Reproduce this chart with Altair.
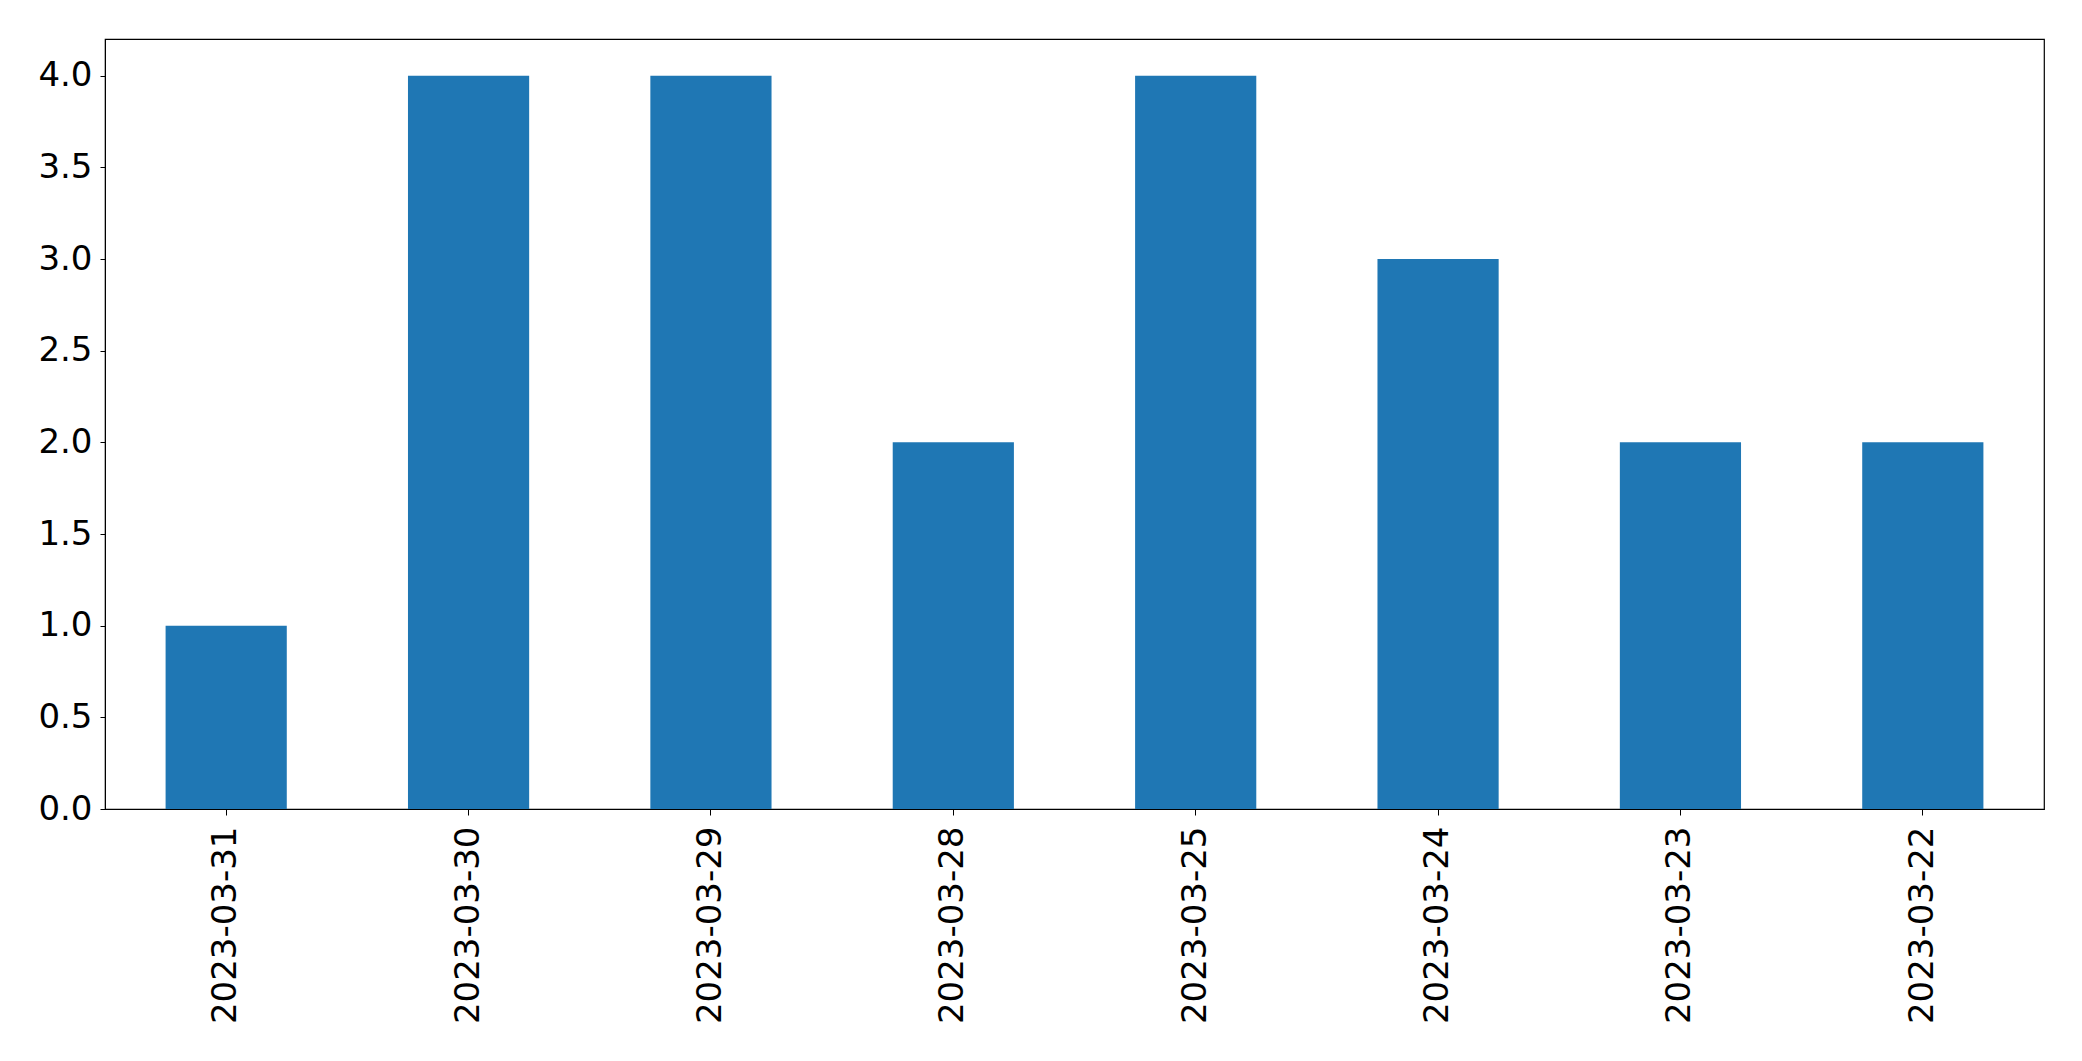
import altair as alt
import pandas as pd

dates = ["2023-03-31", "2023-03-30", "2023-03-29", "2023-03-28",
         "2023-03-25", "2023-03-24", "2023-03-23", "2023-03-22"]
counts = [1, 4, 4, 2, 4, 3, 2, 2]
y_ticks = [0.0, 0.5, 1.0, 1.5, 2.0, 2.5, 3.0, 3.5, 4.0]

df = pd.DataFrame({"date": dates, "count": counts})

chart = alt.Chart(df).mark_bar(color="#1f77b4").encode(
    x=alt.X("date:N", sort=None, title=None,
            scale=alt.Scale(paddingInner=0.5, paddingOuter=0.25),
            axis=alt.Axis(labelAngle=270, labelFontSize=34, labelFont="DejaVu Sans",
                          labelColor="black", tickColor="black", tickSize=6,
                          labelPadding=11, labelLimit=0, domainColor="black", grid=False)),
    y=alt.Y("count:Q", title=None,
            scale=alt.Scale(domain=[0, 4.2], nice=False),
            axis=alt.Axis(values=y_ticks, format=".1f", labelFontSize=34,
                          labelFont="DejaVu Sans", labelColor="black",
                          tickColor="black", tickSize=5, labelPadding=8,
                          domainColor="black", grid=False)),
).properties(
    width=1939, height=770,
    autosize=alt.AutoSizeParams(type="none"),
    padding={"left": 97, "top": 31, "right": 30, "bottom": 240},
).configure_view(stroke="black", strokeWidth=1.2)

chart.save("out.html", embed_options={"renderer": "svg", "actions": False})
